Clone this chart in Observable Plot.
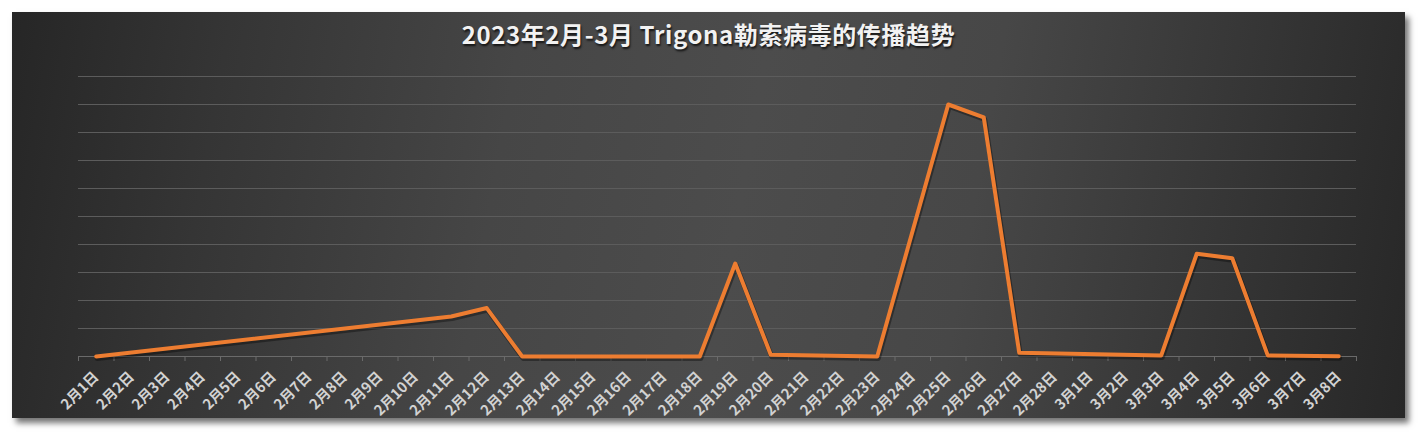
<!DOCTYPE html>
<html>
<head>
<meta charset="utf-8">
<script src="https://cdn.jsdelivr.net/npm/d3@7"></script>
<script src="https://cdn.jsdelivr.net/npm/@observablehq/plot@0.6"></script>
<style>
  html, body { margin: 0; padding: 0; background: #ffffff; width: 1418px; height: 432px; overflow: hidden; }
  #frame {
    position: absolute; left: 12px; top: 12px; width: 1393px; height: 406px;
    background: linear-gradient(100deg, #262626 0%, #353535 15%, #464646 35%, #4c4c4c 52%, #474747 68%, #363636 85%, #272727 100%);
    box-shadow: 4px 5px 6px rgba(0,0,0,0.55);
  }
  #title {
    position: absolute; left: 12px; top: 17px; width: 1393px; text-align: center;
    font-family: "Noto Sans CJK SC", "Noto Sans", sans-serif; font-weight: bold; font-size: 24px; line-height: 34px;
    color: #f2f2f2; text-shadow: 1px 2px 2px rgba(0,0,0,0.7); letter-spacing: 0.6px;
  }
  #chart { position: absolute; left: 0; top: 0; }
</style>
</head>
<body>
<div id="frame"></div>
<div id="title">2023年2月-3月 Trigona勒索病毒的传播趋势</div>
<div id="chart"></div>
<script>
const categories = [
  "2月1日","2月2日","2月3日","2月4日","2月5日","2月6日","2月7日","2月8日","2月9日","2月10日",
  "2月11日","2月12日","2月13日","2月14日","2月15日","2月16日","2月17日","2月18日","2月19日","2月20日",
  "2月21日","2月22日","2月23日","2月24日","2月25日","2月26日","2月27日","2月28日",
  "3月1日","3月2日","3月3日","3月4日","3月5日","3月6日","3月7日","3月8日"
];
const pointDates = ["2月1日","2月11日","2月12日","2月13日","2月18日","2月19日","2月20日","2月23日",
  "2月25日","2月26日","2月27日","3月3日","3月4日","3月5日","3月6日","3月8日"];
const pointValues = [0, 1.43, 1.73, 0, 0, 3.32, 0.06, 0, 9.0, 8.54, 0.13, 0.04, 3.67, 3.51, 0.04, 0.01];
const gridValues = [1, 2, 3, 4, 5, 6, 7, 8, 9, 10];

const data = pointDates.map((d, i) => ({ idx: categories.indexOf(d), value: pointValues[i] }));
const centers = d3.range(categories.length);
const boundaries = d3.range(categories.length + 1).map(i => i - 0.5);

const chart = Plot.plot({
  width: 1418,
  height: 432,
  marginLeft: 78,
  marginRight: 62,
  marginTop: 76,
  marginBottom: 76,
  style: { background: "transparent", overflow: "visible" },
  x: { type: "linear", domain: [-0.5, categories.length - 0.5], axis: null, label: null },
  y: { domain: [0, 10], axis: null, label: null },
  marks: [
    Plot.gridY(gridValues, { stroke: "#5c5c5c", strokeOpacity: 1, strokeWidth: 1.2 }),
    Plot.ruleY([0], { stroke: "#6a6a6a", strokeWidth: 1.2 }),
    Plot.axisX(boundaries, { tickSize: 5, stroke: "#6a6a6a", strokeOpacity: 1, tickFormat: () => "", label: null }),
    Plot.axisX(centers, {
      tickSize: 0, tickPadding: 14, tickRotate: -45, dy: 4,
      tickFormat: i => categories[i],
      fill: "#d2d2d2", fontSize: 14.5, fontWeight: "bold",
      fontFamily: "'Noto Sans CJK SC', sans-serif", label: null
    }),
    Plot.line(data, { x: "idx", y: "value", stroke: "#000", strokeOpacity: 0.35, strokeWidth: 5, dx: 1, dy: 2, strokeLinejoin: "round" }),
    Plot.line(data, { x: "idx", y: "value", stroke: "#ED7D31", strokeWidth: 4, strokeLinejoin: "round", strokeLinecap: "round" })
  ]
});
document.getElementById("chart").appendChild(chart);
</script>
</body>
</html>
